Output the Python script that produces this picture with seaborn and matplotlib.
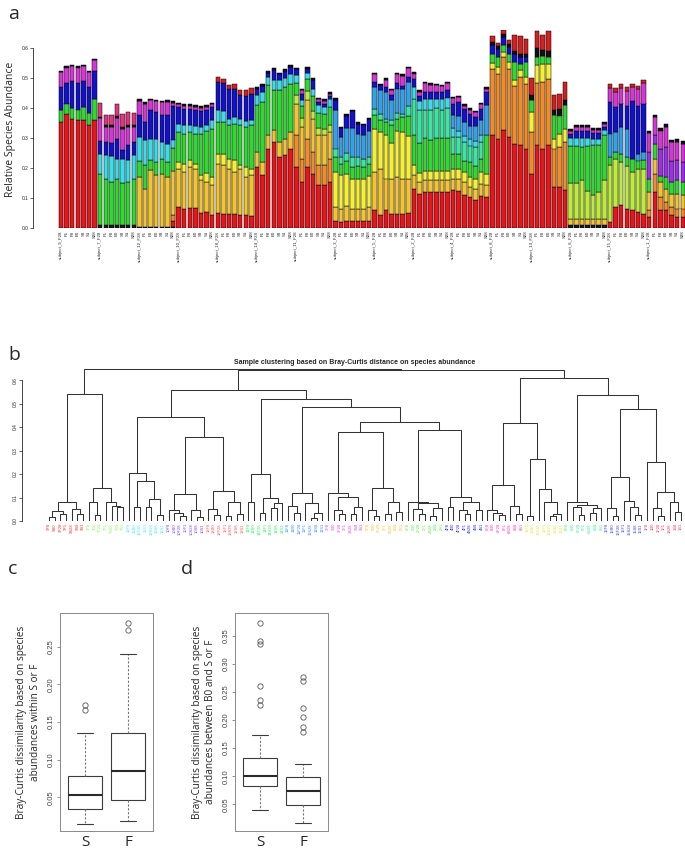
import numpy as np
import pandas as pd
import matplotlib
matplotlib.use("Agg")
import matplotlib.pyplot as plt
import seaborn as sns

# ---------------- data: panel a (stacked relative abundances) ----------------
subjects = ["9", "7", "12", "10", "18", "14", "11", "3", "5", "2", "4", "8", "13", "6", "15", "1"]
samples = ["F28", "F1", "F8", "B0", "S8", "S1", "S28"]

ab_base_black = [
    0, 0, 0, 0, 0, 0, 0,
    .01, .01, .01, .01, .01, .01, .01,
    .005, .005, .005, .005, .005, .005, .005,
    0, 0, 0, 0, 0, 0, 0,
    0, 0, 0, 0, 0, 0, 0,
    0, 0, 0, 0, 0, 0, 0,
    0, 0, 0, 0, 0, 0, 0,
    0, 0, 0, 0, 0, 0, 0,
    0, 0, 0, 0, 0, 0, 0,
    0, 0, 0, 0, 0, 0, 0,
    0, 0, 0, 0, 0, 0, 0,
    0, 0, 0, 0, 0, 0, 0,
    0, 0, 0, 0, 0, 0, 0,
    .01, .01, .01, .01, .01, .01, .01,
    0, 0, 0, 0, 0, 0, 0,
    0, 0, 0, 0, 0, 0, 0,
]
ab_red = [
    .355, .38, .365, .36, .36, .345, .36,
    0, 0, 0, 0, 0, 0, 0,
    0, 0, 0, 0, 0, 0, .02,
    .07, .064, .067, .067, .051, .053, .044,
    .051, .048, .048, .048, .042, .042, .04,
    .203, .176, .264, .287, .237, .242, .264,
    .203, .153, .203, .181, .142, .142, .153,
    .025, .02, .025, .025, .022, .022, .022,
    .059, .042, .059, .048, .048, .048, .051,
    .129, .114, .12, .12, .12, .12, .12,
    .126, .123, .109, .103, .092, .107, .103,
    .309, .298, .326, .303, .281, .276, .264,
    .181, .276, .264, .276, .137, .137, .126,
    0, 0, 0, 0, 0, 0, 0,
    .02, .07, .076, .064, .059, .053, .048,
    .037, .12, .059, .059, .042, .037, .037,
]
ab_orange = [
    0, 0, 0, 0, 0, 0, 0,
    0, 0, 0, 0, 0, 0, 0,
    0, 0, 0, 0, 0, 0, .02,
    0, 0, 0, 0, 0, 0, 0,
    0, 0, 0, 0, 0, 0, 0,
    0, 0, 0, 0, 0, 0, 0,
    .106, .078, .095, .072, .067, .067, .078,
    0, 0, 0, 0, 0, 0, 0,
    0, 0, 0, 0, 0, 0, 0,
    0, 0, 0, 0, 0, 0, 0,
    0, 0, 0, 0, 0, 0, 0,
    .222, .217, .244, .228, .194, .228, .217,
    .139, .206, .222, .222, .128, .133, .161,
    0, 0, 0, 0, 0, 0, 0,
    0, 0, 0, 0, 0, 0, 0,
    .022, .061, .044, .028, .028, .028, .028,
]
ab_gold = [
    0, 0, 0, 0, 0, 0, 0,
    0, 0, 0, 0, 0, 0, 0,
    .165, .126, .187, .171, .176, .165, .145,
    .128, .123, .136, .13, .108, .1, .098,
    .163, .161, .15, .139, .156, .128, .136,
    .05, .044, .045, .039, .05, .056, .056,
    .105, .105, .128, .111, .1, .1, .089,
    .045, .045, .05, .04, .042, .042, .048,
    .128, .155, .106, .117, .122, .117, .113,
    .047, .04, .04, .04, .04, .04, .04,
    .039, .041, .044, .033, .039, .041, .039,
    0, 0, 0, 0, 0, 0, 0,
    0, 0, 0, 0, 0, 0, 0,
    .02, .02, .02, .02, .02, .02, .02,
    0, 0, 0, 0, 0, 0, 0,
    .061, .05, .05, .044, .044, .05, .044,
]
ab_yellow = [
    0, 0, 0, 0, 0, 0, 0,
    0, 0, 0, 0, 0, 0, 0,
    0, 0, 0, 0, 0, 0, 0,
    .022, .027, .023, .017, .017, .03, .028,
    .034, .039, .033, .039, .011, .033, .022,
    0, 0, 0, 0, 0, 0, 0,
    0, 0, 0, 0, 0, 0, 0,
    .117, .111, .106, .1, .1, .1, .105,
    .144, .122, .144, .117, .155, .155, .144,
    .033, .028, .03, .03, .03, .03, .03,
    .033, .033, .033, .033, .033, .039, .039,
    .019, .022, .017, .022, .017, .022, .022,
    .067, .061, .061, .05, .033, .044, .044,
    0, 0, 0, 0, 0, 0, 0,
    0, 0, 0, 0, 0, 0, 0,
    0, 0, 0, 0, 0, 0, 0,
]
ab_yellowgreen = [
    0, 0, 0, 0, 0, 0, 0,
    0, 0, 0, 0, 0, 0, 0,
    0, 0, 0, 0, 0, 0, 0,
    0, 0, 0, 0, 0, 0, 0,
    0, 0, 0, 0, 0, 0, 0,
    0, 0, 0, 0, 0, 0, 0,
    .03, .03, .03, .025, .025, .02, .025,
    0, 0, 0, 0, 0, 0, 0,
    0, 0, 0, 0, 0, 0, 0,
    0, 0, 0, 0, 0, 0, 0,
    0, 0, 0, 0, 0, 0, 0,
    0, 0, 0, 0, 0, 0, 0,
    0, 0, 0, 0, 0, 0, 0,
    .12, .12, .13, .095, .08, .09, .13,
    .189, .161, .144, .144, .128, .144, .15,
    0, 0, 0, 0, 0, 0, 0,
]
ab_green = [
    .04, .035, .035, .035, .045, .04, .07,
    .17, .155, .145, .152, .14, .145, .155,
    .055, .078, .034, .044, .05, .05, .077,
    .1, .1, .094, .1, .138, .14, .161,
    .105, .105, .111, .122, .133, .133, .144,
    .156, .2, .167, .133, .172, .172, .161,
    .04, .04, .04, .05, .05, .05, .06,
    .05, .039, .044, .039, .044, .039, .039,
    .045, .04, .045, .06, .04, .05, .067,
    .1, .1, .11, .105, .11, .11, .11,
    .05, .05, .039, .05, .044, .044, .128,
    .031, .033, .022, .028, .061, .022, .05,
    .039, .028, .026, .022, .078, .061, .078,
    .125, .125, .11, .15, .166, .156, .149,
    .028, .022, .028, .028, .044, .028, .028,
    .044, .05, .022, .039, .039, .044, .044,
]
ab_springgreen = [
    0, 0, 0, 0, 0, 0, 0,
    0, 0, 0, 0, 0, 0, 0,
    0, 0, 0, 0, 0, 0, 0,
    0, 0, 0, 0, 0, 0, 0,
    0, 0, 0, 0, 0, 0, 0,
    0, 0, 0, 0, 0, 0, 0,
    0, 0, 0, 0, 0, 0, 0,
    .028, .022, .025, .033, .028, .028, .022,
    .022, .022, .011, .017, .017, .011, .033,
    .12, .11, .095, .1, .1, .095, .1,
    .056, .056, .061, .056, .061, .056, 0,
    0, 0, 0, 0, 0, 0, 0,
    0, 0, 0, 0, 0, 0, 0,
    0, 0, 0, 0, 0, 0, 0,
    0, 0, 0, 0, 0, 0, 0,
    0, 0, 0, 0, 0, 0, 0,
]
ab_cyan = [
    0, 0, 0, 0, 0, 0, 0,
    .067, .078, .084, .067, .081, .073, .08,
    .078, .083, .072, .078, .056, .061, .028,
    .028, .028, .024, .025, .022, .022, .028,
    .04, .038, .022, .022, .022, .022, .017,
    .033, .033, .028, .033, .033, .031, .033,
    .025, .02, .02, .025, .025, .025, .025,
    0, 0, 0, 0, 0, 0, 0,
    0, 0, 0, 0, 0, 0, 0,
    .04, .03, .035, .035, .03, .035, .035,
    .028, .022, .022, .022, .022, .022, 0,
    0, 0, 0, 0, 0, 0, 0,
    0, 0, 0, 0, 0, 0, 0,
    .025, .025, .03, .025, .02, .02, .017,
    0, 0, 0, 0, 0, 0, 0,
    0, 0, 0, 0, 0, 0, 0,
]
ab_skyblue = [
    0, 0, 0, 0, 0, 0, 0,
    0, 0, 0, 0, 0, 0, 0,
    0, 0, 0, 0, 0, 0, 0,
    0, 0, 0, 0, 0, 0, 0,
    0, 0, 0, 0, 0, 0, 0,
    0, 0, 0, 0, 0, 0, 0,
    0, 0, 0, 0, 0, 0, 0,
    .128, .067, .085, .095, .078, .078, .089,
    .072, .078, .089, .067, .083, .083, .078,
    0, 0, 0, 0, 0, 0, 0,
    .044, .05, .044, .044, .05, .05, .1,
    0, 0, 0, 0, 0, 0, 0,
    0, 0, 0, 0, 0, 0, 0,
    0, 0, 0, 0, 0, 0, 0,
    .078, .067, .089, .094, 0, .022, .028,
    0, 0, 0, 0, 0, 0, 0,
]
ab_blue = [
    .075, .07, .09, .09, .085, .085, .095,
    .044, .045, .044, .069, .03, .05, .043,
    .073, .061, .094, .089, .089, .095, .111,
    .055, .056, .054, .055, .055, .05, .044,
    .094, .091, .1, .094, .078, .083, .089,
    .022, .022, .013, .035, .02, .022, .022,
    .02, .02, .015, .03, .01, .01, .01,
    .035, .028, .04, .057, .034, .034, .038,
    .017, .017, .017, .017, .017, .011, .017,
    .028, .017, .025, .025, .025, .022, .025,
    .039, .044, .044, .039, .028, .039, .044,
    .028, .028, .028, .022, .028, .022, .017,
    0, 0, 0, 0, 0, 0, 0,
    .012, .022, .022, .022, .022, .022, .01,
    .105, .083, .078, .078, .194, .161, .161,
    0, 0, 0, 0, 0, 0, 0,
]
ab_purple = [0] * 105 + [.089, .028, .089, .1, .072, .067, .067]
ab_magenta = [
    .05, .05, .05, .05, .05, .05, .035,
    .075, .05, .055, .07, .07, .06, .05,
    .048, .062, .034, .035, .043, .045, .012,
    .01, .01, .01, .01, .01, .01, .01,
    0, 0, 0, 0, 0, 0, 0,
    0, 0, 0, 0, 0, 0, 0,
    0, .013, 0, 0, .01, .01, .008,
    0, 0, 0, 0, 0, 0, 0,
    .025, 0, .023, .017, .03, .033, .03,
    .018, .015, .027, .023, .021, .021, .022,
    .017, .017, .011, .014, .017, .015, .012,
    0, 0, 0, 0, 0, 0, 0,
    0, 0, 0, 0, 0, 0, 0,
    .012, .015, .015, .015, .01, .01, .012,
    .047, .05, .052, .05, .044, .055, .067,
    .063, .061, .061, .067, .061, .061, .061,
]
ab_black_top = [
    .005, .005, .005, .005, .005, .005, .005,
    .005, .005, .005, .005, .005, .005, .005,
    .005, .005, .005, .005, .005, .005, .005,
    .005, .005, .005, .005, .005, .005, .005,
    0, 0, 0, 0, 0, 0, 0,
    .006, .006, .006, .006, .006, .006, .006,
    .005, .005, .005, .005, .005, .005, .005,
    .005, .005, .005, .005, .005, .005, .005,
    .005, .005, .005, .005, .005, .005, .005,
    .005, .005, .005, .005, .005, .005, .005,
    .005, .005, .005, .005, .005, .005, .005,
    .01, .01, .01, .01, .01, .01, .01,
    .017, .028, .019, .019, .017, .022, .017,
    .005, .005, .005, .005, .005, .005, .005,
    0, 0, 0, 0, 0, 0, 0,
    .008, .008, .008, .008, .008, .008, .008,
]
ab_deeppink = [0] * 7 + [.045, .035, .035, .04, .045, .045, .04] + [0] * 98
ab_topred = [
    0, 0, 0, 0, 0, 0, 0,
    0, 0, 0, 0, 0, 0, 0,
    0, 0, 0, 0, 0, 0, 0,
    0, 0, 0, 0, 0, 0, 0,
    .016, .014, .013, .017, .017, .02, .02,
    0, 0, 0, 0, 0, 0, 0,
    0, 0, 0, 0, 0, 0, 0,
    0, 0, 0, 0, 0, 0, 0,
    0, 0, 0, 0, 0, 0, 0,
    0, 0, 0, 0, 0, 0, 0,
    0, 0, 0, 0, 0, 0, 0,
    .02, .009, .012, .013, .051, .059, .049,
    .058, .058, .05, .067, .05, .05, .061,
    0, 0, 0, 0, 0, 0, 0,
    .014, .013, .014, .012, .01, .01, .01,
    0, 0, 0, 0, 0, 0, 0,
]

# ---------------- data: panel b (dendrogram) ----------------
dendro_samples = ["F8", "B0", "F28", "F1", "S28", "S8", "S1"]
# [height, left, right]; ints index dendro_samples within one subject
sub_trees = {
    "9":  [0.082, [0.044, [0.016, 0, 1], [0.03, 2, 3]], [0.05, 4, [0.03, 5, 6]]],
    "7":  [0.139, [0.08, 0, [0.025, 1, 2]], [0.082, 3, [0.065, 4, [0.058, 5, 6]]]],
    "12": [0.203, 0, [0.172, [0.058, 1, 2], [0.092, [0.06, 3, 4], [0.025, 5, 6]]]],
    "10": [0.114, [0.045, 0, [0.035, 1, [0.02, 2, 3]]], [0.045, 4, [0.017, 5, 6]]],
    "18": [0.129, [0.05, 0, [0.025, 1, 2]], [0.082, [0.02, 3, 4], [0.03, 5, 6]]],
    "14": [0.2, [0.082, 0, 1], [0.1, [0.035, 2, 3], [0.078, [0.055, 4, 5], 6]]],
    "11": [0.118, [0.063, 0, [0.035, 1, 2]], [0.075, 3, [0.032, [0.012, 4, 5], 6]]],
    "3":  [0.118, 0, [0.104, [0.045, 1, [0.03, 2, 3]], [0.06, [0.03, 4, 5], 6]]],
    "5":  [0.139, [0.045, 0, [0.02, 1, 2]], [0.08, [0.03, 3, 4], [0.04, 5, 6]]],
    "2":  [0.082, 0, [0.078, [0.05, 1, [0.03, 2, 3]], [0.055, [0.02, 4, 5], 6]]],
    "4":  [0.103, [0.06, 0, 1], [0.082, [0.045, 2, [0.03, 3, 4]], [0.045, 5, 6]]],
    "8":  [0.153, [0.045, 0, [0.035, 1, [0.025, 2, 3]]], [0.066, 4, [0.03, 5, 6]]],
    "13": [0.264, [0.02, 0, 1], [0.136, 2, [0.082, 3, [0.03, [0.02, 4, 5], 6]]]],
    "6":  [0.082, 0, [0.07, [0.06, 1, [0.025, 2, 3]], [0.055, [0.035, 4, 5], 6]]],
    "15": [0.186, [0.055, 0, [0.02, 1, 2]], [0.085, 3, [0.06, 4, [0.025, 5, 6]]]],
    "1":  [0.252, 0, [0.122, [0.055, 1, [0.02, 2, 3]], [0.08, 4, [0.04, 5, 6]]]],
}
top_tree = [0.647, [0.539, "9", "7"],
            [0.641,
             [0.557, [0.441, "12", [0.356, "10", "18"]],
              [0.519, "14", [0.486, "11", [0.423, [0.38, "3", "5"], [0.387, "2", "4"]]]]],
             [0.611, [0.416, "8", "13"], [0.536, "6", [0.479, "15", "1"]]]]]

# ---------------- data: panels c, d (Bray-Curtis dissimilarities) ----------------
within_S = [0.015, 0.02, 0.024, 0.027, 0.03, 0.033, 0.035, 0.038, 0.041, 0.044, 0.047, 0.05, 0.053,
            0.056, 0.06, 0.064, 0.069, 0.074, 0.078, 0.086, 0.095, 0.108, 0.136, 0.166, 0.172]
within_F = [0.018, 0.024, 0.03, 0.035, 0.04, 0.044, 0.047, 0.052, 0.058, 0.064, 0.07, 0.078, 0.085,
            0.092, 0.1, 0.108, 0.116, 0.125, 0.135, 0.15, 0.17, 0.2, 0.24, 0.272, 0.282]
between_S = [0.04, 0.05, 0.058, 0.064, 0.07, 0.074, 0.078, 0.082, 0.085, 0.088, 0.091, 0.094, 0.096, 0.098,
             0.10, 0.104, 0.108, 0.113, 0.118, 0.123, 0.128, 0.132, 0.174, 0.227, 0.236, 0.261, 0.336, 0.34, 0.372]
between_F = [0.016, 0.022, 0.028, 0.033, 0.038, 0.042, 0.046, 0.049, 0.053, 0.057, 0.061, 0.065, 0.068, 0.071,
             0.073, 0.077, 0.081, 0.085, 0.089, 0.093, 0.096, 0.099, 0.121, 0.178, 0.188, 0.205, 0.222, 0.27, 0.277]

# ---------------- styles ----------------
layers = [ab_base_black, ab_red, ab_orange, ab_gold, ab_yellow, ab_yellowgreen, ab_green,
          ab_springgreen, ab_cyan, ab_skyblue, ab_blue, ab_purple, ab_magenta, ab_black_top,
          ab_deeppink, ab_topred]
layer_colors = ["#1a1a1a", "#E8161B", "#F28C28", "#F2C431", "#F6F034", "#BDEB3A", "#2FD92F",
                "#38E6A0", "#3BDCE8", "#33A0EA", "#1212CC", "#9B30E8", "#D636D6", "#111111",
                "#E0357F", "#D42020"]
subject_colors = {"9": "#FF2A2A", "7": "#86FF4A", "12": "#3FEFF5", "10": "#8344FF", "18": "#FF5A5A",
                  "14": "#33F060", "11": "#3A8CFF", "3": "#E43CF0", "5": "#FFC226", "2": "#55EE44",
                  "4": "#2A2AFF", "8": "#FF33C4", "13": "#E6E633", "6": "#33EE99", "15": "#3A40FF",
                  "1": "#FF3355"}

sns.set_style("white")
plt.rcParams["font.family"] = ["Liberation Sans", "DejaVu Sans"]
LABEL_FONT = ["Open Sans", "DejaVu Sans"]

W, H = 685, 852
fig = plt.figure(figsize=(W / 100, H / 100), dpi=100)
fig.patch.set_facecolor("white")


def rect(l, t, r, b):
    return [l / W, 1 - b / H, (r - l) / W, (b - t) / H]


# ---------------- panel a ----------------
axa = fig.add_axes(rect(33, 30, 685, 228))
n = len(ab_red)
xpos = np.arange(n)
bottom = np.zeros(n)
for vals, col in zip(layers, layer_colors):
    v = np.asarray(vals, dtype=float)
    m = v > 0
    axa.bar(xpos[m], v[m], bottom=bottom[m], width=0.8, color=col,
            edgecolor="black", linewidth=0.35)
    bottom += v
axa.set_xlim(-5, 111.4)
axa.set_ylim(0, 0.66)
for s in ["top", "right", "bottom"]:
    axa.spines[s].set_visible(False)
axa.spines["left"].set_bounds(0, 0.6)
axa.spines["left"].set_linewidth(0.6)
axa.set_yticks([0, 0.1, 0.2, 0.3, 0.4, 0.5, 0.6])
axa.set_yticklabels(["0.0", "0.1", "0.2", "0.3", "0.4", "0.5", "0.6"], fontsize=3.5)
axa.tick_params(axis="y", length=2, width=0.5, pad=1, left=True)
xlabels = []
for s in subjects:
    for j, smp in enumerate(samples):
        xlabels.append(f"subject_{s}_{smp}" if j == 0 else smp)
axa.set_xticks(xpos)
axa.set_xticklabels(xlabels, rotation=90, fontsize=3.2)
axa.tick_params(axis="x", length=0, pad=2)
axa.set_ylabel("Relative Species Abundance", fontsize=7.5, family=LABEL_FONT, labelpad=4)
fig.text(8 / W, 1 - 14 / H, "a", fontsize=14, family=LABEL_FONT, va="center")

# ---------------- panel b ----------------
axb = fig.add_axes(rect(22, 366, 685, 521))
leaf_labels, leaf_cols = [], []
counter = [0]
line_kw = dict(color="#333333", lw=0.75, solid_capstyle="butt")


def draw_sub(node, subj):
    if isinstance(node, int):
        x = counter[0]
        counter[0] += 1
        leaf_labels.append(subj + dendro_samples[node])
        leaf_cols.append(subject_colors[subj])
        return x, 0.0
    h, l, r = node
    xl, hl = draw_sub(l, subj)
    xr, hr = draw_sub(r, subj)
    axb.plot([xl, xl, xr, xr], [hl, h, h, hr], **line_kw)
    return (xl + xr) / 2, h


def draw_top(node):
    if isinstance(node, str):
        return draw_sub(sub_trees[node], node)
    h, l, r = node
    xl, hl = draw_top(l)
    xr, hr = draw_top(r)
    axb.plot([xl, xl, xr, xr], [hl, h, h, hr], **line_kw)
    return (xl + xr) / 2, h


draw_top(top_tree)
axb.set_xlim(-4.74, 111.7)
axb.set_ylim(0, 0.66)
for s in ["top", "right", "bottom"]:
    axb.spines[s].set_visible(False)
axb.spines["left"].set_bounds(0, 0.6)
axb.spines["left"].set_linewidth(0.6)
axb.set_yticks([0, 0.1, 0.2, 0.3, 0.4, 0.5, 0.6])
axb.set_yticklabels(["0.0", "0.1", "0.2", "0.3", "0.4", "0.5", "0.6"], fontsize=3.5, rotation=90, va="center")
axb.tick_params(axis="y", length=2, width=0.5, pad=1, left=True)
axb.set_xticks(np.arange(len(leaf_labels)))
axb.set_xticklabels(leaf_labels, rotation=90, fontsize=3)
for t, c in zip(axb.get_xticklabels(), leaf_cols):
    t.set_color(c)
axb.tick_params(axis="x", length=0, pad=1.5)
fig.text(355 / W, 1 - 362 / H, "Sample clustering based on Bray-Curtis distance on species abundance",
         fontsize=5, fontweight="bold", ha="center", va="center")
fig.text(8 / W, 1 - 355 / H, "b", fontsize=14, family=LABEL_FONT, va="center")

# ---------------- panels c, d ----------------
box_kw = dict(order=["S", "F"], width=0.77, color="white", linecolor="#3c3c3c", linewidth=0.8, whis=1.5,
              flierprops=dict(marker="o", markerfacecolor="none", markeredgecolor="#555555",
                              markersize=3.8, markeredgewidth=0.6),
              whiskerprops=dict(linestyle=(0, (2, 1.5)), color="#777777"),
              capprops=dict(color="#3c3c3c"),
              medianprops=dict(color="#2a2a2a", linewidth=1.5))


def box_panel(left, vS, vF, ylim, ticks, ylabel, letter, letter_x):
    ax = fig.add_axes(rect(left, 613, left + 93, 831))
    df = pd.DataFrame({"grp": ["S"] * len(vS) + ["F"] * len(vF), "val": vS + vF})
    sns.boxplot(data=df, x="grp", y="val", ax=ax, **box_kw)
    ax.set_xlim(-0.58, 1.58)
    ax.set_ylim(*ylim)
    ax.set_yticks(ticks)
    ax.set_yticklabels([f"{t:.2f}" for t in ticks], rotation=90, va="center", fontsize=5.5, color="#444444")
    ax.tick_params(axis="y", length=2.5, width=0.5, left=True, pad=1.5, color="#666666")
    ax.set_xticks([0, 1])
    ax.set_xticklabels(["S", "F"], fontsize=11, family=LABEL_FONT)
    ax.tick_params(axis="x", length=0, pad=3)
    ax.set_xlabel("")
    ax.set_ylabel(ylabel, fontsize=7.2, family=LABEL_FONT, labelpad=5, linespacing=1.25)
    for s in ax.spines.values():
        s.set_visible(True)
        s.set_color("#8a8a8a")
        s.set_linewidth(0.7)
    fig.text(letter_x / W, 1 - 569 / H, letter, fontsize=14, family=LABEL_FONT, va="center")
    return ax


box_panel(60, within_S, within_F, (0.0052, 0.2948), [0.05, 0.10, 0.15, 0.20, 0.25],
          "Bray-Curtis dissimilarity based on species\nabundances within S or F", "c", 8)
box_panel(235, between_S, between_F, (0.0025, 0.3904), [0.05, 0.10, 0.15, 0.20, 0.25, 0.30, 0.35],
          "Bray-Curtis dissimilarity based on species\nabundances between B0 and S or F", "d", 181)

fig.savefig("out.png", dpi=100, facecolor="white")
